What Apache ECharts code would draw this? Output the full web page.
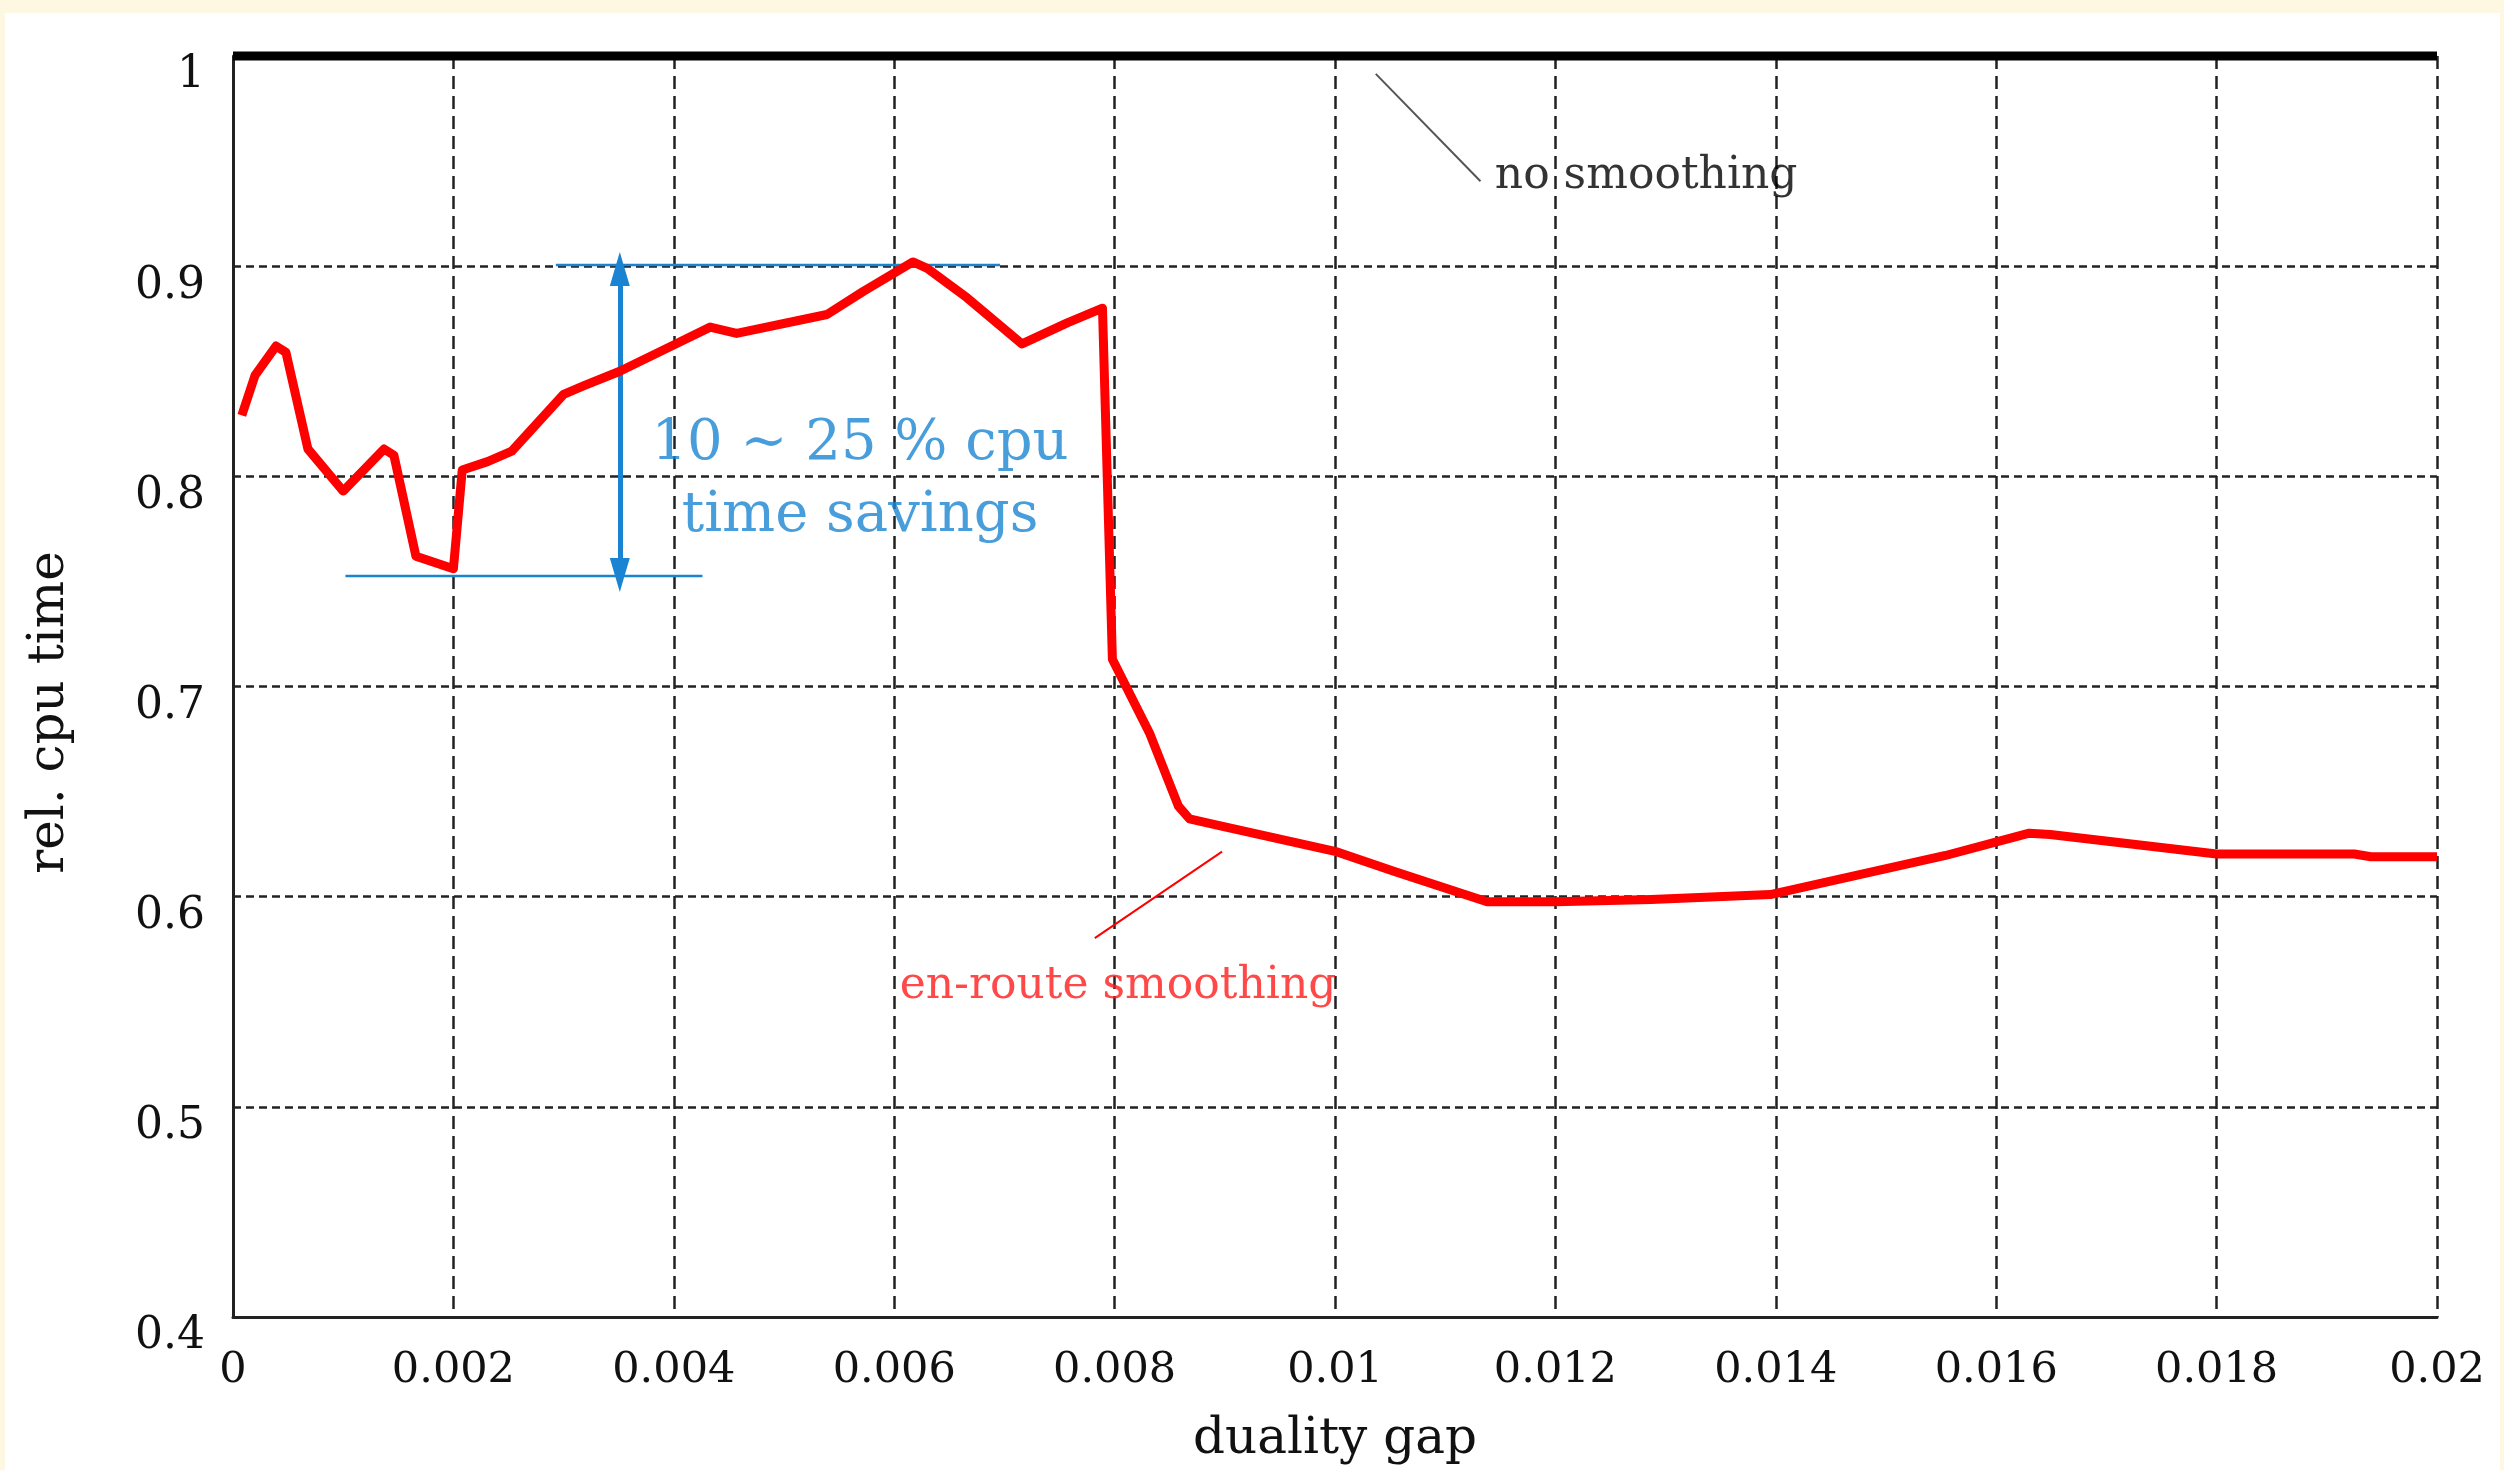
<!DOCTYPE html>
<html>
<head>
<meta charset="utf-8">
<script src="https://cdn.jsdelivr.net/npm/echarts@6/dist/echarts.min.js"></script>
<style>
  html, body { margin: 0; padding: 0; width: 2504px; height: 1470px; background: #FEF7E2; overflow: hidden; }
  #chart { position: absolute; left: 5px; top: 13px; width: 2495px; height: 1457px; background: #ffffff; }
</style>
</head>
<body>
<div id="chart"></div>
<script>
// ---- data ----
const xTicks = [0, 0.002, 0.004, 0.006, 0.008, 0.01, 0.012, 0.014, 0.016, 0.018, 0.02];
const yTicks = [0.4, 0.5, 0.6, 0.7, 0.8, 0.9, 1];

const noSmoothingX = [0, 0.02];
const noSmoothingY = [1, 1];

const enRouteX = [0.00008, 0.0002, 0.00039, 0.00048, 0.00068, 0.0010, 0.00137, 0.00146, 0.00166, 0.0020,
  0.00208, 0.00231, 0.00253, 0.0030, 0.00318, 0.00351, 0.00398, 0.00433, 0.00457, 0.00539,
  0.00572, 0.00617, 0.0063, 0.00666, 0.00716, 0.00757, 0.00789, 0.00798, 0.0082, 0.00832,
  0.00858, 0.00868, 0.00893, 0.0100, 0.01054, 0.01138, 0.0120, 0.01287, 0.01395, 0.01554,
  0.0163, 0.01649, 0.0180, 0.01925, 0.0194, 0.0200];
const enRouteY = [0.829, 0.848, 0.862, 0.859, 0.813, 0.793, 0.813, 0.810, 0.762, 0.756,
  0.803, 0.807, 0.812, 0.839, 0.843, 0.850, 0.862, 0.871, 0.868, 0.877,
  0.888, 0.902, 0.899, 0.885, 0.863, 0.873, 0.880, 0.713, 0.690, 0.6775,
  0.643, 0.637, 0.634, 0.6216, 0.612, 0.5976, 0.5976, 0.5987, 0.601, 0.6196,
  0.6302, 0.6296, 0.6203, 0.6203, 0.619, 0.619];

// annotation geometry (data coordinates)
const savingsTopX = [0.00293, 0.00696];
const savingsTopY = [0.9005, 0.9005];
const savingsBottomX = [0.00102, 0.00426];
const savingsBottomY = [0.7526, 0.7526];
const savingsArrowX = [0.00351, 0.00351];
const savingsArrowY = [0.8986, 0.7530];
const noSmoothLeaderX = [0.01037, 0.01132];
const noSmoothLeaderY = [0.9915, 0.9404];
const enRouteLeaderX = [0.00782, 0.008975];
const enRouteLeaderY = [0.5803, 0.6214];

const labelTexts = ['no smoothing', 'en-route smoothing', '10 ~ 25 % cpu\ntime savings'];
const labelX = [0.01145, 0.00605, 0.00569];
const labelY = [0.9427, 0.5570, 0.798];

const xName = 'duality gap';
const yName = 'rel. cpu time';

// ---- build chart ----
const zip = (xs, ys) => xs.map((x, i) => [x, ys[i]]);
const SERIF = '"DejaVu Serif", "Liberation Serif", serif';
const BLUE = '#1A84D2';
const RED = '#FF0000';

const chart = echarts.init(document.getElementById('chart'), null, { renderer: 'canvas' });

chart.setOption({
  animation: false,
  backgroundColor: '#ffffff',
  grid: { left: 228, right: 63, top: 43, bottom: 136, containLabel: false },
  xAxis: {
    type: 'value',
    min: xTicks[0],
    max: xTicks[xTicks.length - 1],
    interval: xTicks[1] - xTicks[0],
    name: xName,
    nameLocation: 'middle',
    nameGap: 98,
    nameTextStyle: { fontFamily: SERIF, fontSize: 50, color: '#111' },
    axisLine: { show: true, onZero: false, lineStyle: { color: '#222', width: 3 } },
    axisTick: { show: false },
    axisLabel: { fontFamily: SERIF, fontSize: 43, color: '#111', margin: 32,
      formatter: v => String(+v.toFixed(3)) },
    splitLine: { show: true, lineStyle: { color: '#222', width: 2.5, type: [13, 7] } }
  },
  yAxis: {
    type: 'value',
    min: yTicks[0],
    max: yTicks[yTicks.length - 1],
    interval: 0.1,
    name: yName,
    nameLocation: 'middle',
    nameGap: 158,
    nameTextStyle: { fontFamily: SERIF, fontSize: 50, color: '#111', padding: [0, 52, 0, 0] },
    axisLine: { show: true, onZero: false, lineStyle: { color: '#222', width: 3 } },
    axisTick: { show: false },
    axisLabel: { fontFamily: SERIF, fontSize: 44, color: '#111', margin: 28,
      verticalAlign: 'top', lineHeight: 40,
      formatter: v => String(+v.toFixed(1)) },
    splitLine: { show: true, lineStyle: { color: '#222', width: 2.5, type: [8, 5] } }
  },
  series: [
    {
      name: 'no smoothing', type: 'line', data: zip(noSmoothingX, noSmoothingY),
      symbol: 'none', clip: false,
      lineStyle: { color: '#000', width: 9 }, z: 5
    },
    {
      name: 'en-route smoothing', type: 'line', data: zip(enRouteX, enRouteY),
      symbol: 'none', clip: false,
      lineStyle: { color: RED, width: 9, join: 'round' }, z: 6
    },
    {
      type: 'line', data: zip(savingsTopX, savingsTopY), symbol: 'none',
      lineStyle: { color: BLUE, width: 2.5 }, z: 4
    },
    {
      type: 'line', data: zip(savingsBottomX, savingsBottomY), symbol: 'none',
      lineStyle: { color: BLUE, width: 2.5 }, z: 4
    },
    {
      type: 'line', data: [], symbol: 'none',
      markLine: {
        silent: true,
        symbol: ['triangle', 'triangle'],
        symbolSize: [20, 34],
        label: { show: false },
        lineStyle: { color: BLUE, width: 5, type: 'solid' },
        data: [[
          { coord: [savingsArrowX[0], savingsArrowY[0]] },
          { coord: [savingsArrowX[1], savingsArrowY[1]] }
        ]]
      },
      z: 4
    },
    {
      type: 'line', data: zip(noSmoothLeaderX, noSmoothLeaderY), symbol: 'none',
      lineStyle: { color: '#555', width: 2 }, z: 4
    },
    {
      type: 'line', data: zip(enRouteLeaderX, enRouteLeaderY), symbol: 'none',
      lineStyle: { color: RED, width: 2 }, z: 4
    },
    {
      type: 'scatter', symbolSize: 0, z: 10, silent: true,
      data: [
        { value: [labelX[0], labelY[0]], label: { show: true, formatter: labelTexts[0], position: 'right', distance: 0,
          fontFamily: SERIF, fontSize: 44, color: '#000' } },
        { value: [labelX[1], labelY[1]], label: { show: true, formatter: labelTexts[1], position: 'right', distance: 0,
          fontFamily: SERIF, fontSize: 44, color: '#FF1A1A' } },
        { value: [labelX[2], labelY[2]], label: { show: true, formatter: labelTexts[2], position: 'inside',
          align: 'center', verticalAlign: 'middle', lineHeight: 72,
          fontFamily: SERIF, fontSize: 56, color: BLUE } }
      ]
    }
  ]
});
</script>
</body>
</html>
